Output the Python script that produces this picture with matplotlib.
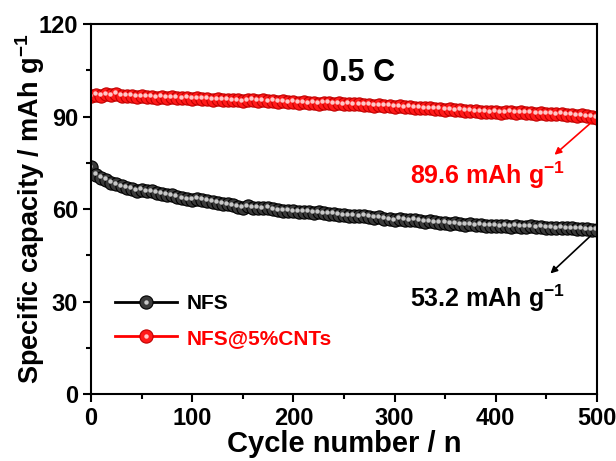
import numpy as np
import matplotlib.pyplot as plt
from matplotlib import transforms
from matplotlib.lines import Line2D
from matplotlib.legend_handler import HandlerTuple
from matplotlib.ticker import MultipleLocator

plt.rcParams['font.family'] = ['Liberation Sans', 'DejaVu Sans']
plt.rcParams['font.weight'] = 'bold'
plt.rcParams['mathtext.fontset'] = 'custom'
plt.rcParams['mathtext.rm'] = 'Liberation Sans:bold'
plt.rcParams['mathtext.default'] = 'rm'

# data (one point every 5 cycles)
cycles = np.arange(0, 501, 5)

nfs = [73.5, 71.0, 70.2, 69.5, 68.6, 68.0, 67.4, 66.8, 66.5, 66.0, 66.2,
       65.7, 65.8, 65.3, 65.0, 64.6, 64.4, 64.0, 63.5, 63.2, 63.0,
       63.3, 62.9, 62.6, 62.4, 62.1, 61.7, 61.5, 61.2, 60.8, 60.5,
       60.9, 60.4, 60.5, 60.2, 60.3, 59.9, 59.6, 59.4, 59.5, 59.3,
       59.2, 59.0, 59.1, 58.8, 58.9, 58.6, 58.4, 58.5, 58.2, 58.0,
       57.9, 57.8, 57.6, 57.7, 57.4, 57.2, 57.3, 56.9, 56.7, 56.4,
       56.8, 56.5, 56.3, 56.5, 56.1, 55.9, 56.0, 55.7, 55.5, 55.6,
       55.3, 55.4, 55.1, 54.9, 55.0, 54.7, 54.8, 54.6, 54.5, 54.6,
       54.4, 54.5, 54.3, 54.5, 54.2, 54.3, 54.4, 54.1, 54.2, 53.9,
       54.0, 53.8, 53.9, 53.7, 53.8, 53.5, 53.6, 53.4, 53.3, 53.2]

nfs_cnt = [96.5, 97.0, 96.8, 97.2, 96.9, 97.3, 96.8, 96.6, 96.7, 96.4, 96.5,
           96.3, 96.4, 96.1, 96.3, 96.0, 96.2, 96.1, 95.9, 96.0, 95.8,
           95.9, 95.7, 95.8, 95.5, 95.6, 95.4, 95.5, 95.2, 95.3, 94.9,
           95.3, 95.4, 95.0, 95.2, 94.9, 95.0, 94.8, 94.9, 94.6, 94.7,
           94.5, 94.6, 94.3, 94.5, 94.2, 94.4, 94.5, 94.2, 94.3, 94.0,
           94.1, 93.9, 94.0, 93.7, 93.8, 93.5, 93.6, 93.4, 93.5, 93.2,
           93.3, 93.0, 93.1, 92.8, 92.9, 92.6, 92.7, 92.4, 92.5, 92.2,
           92.3, 92.0, 92.1, 91.8, 91.9, 91.7, 91.5, 91.6, 91.4, 91.5,
           91.3, 91.4, 91.6, 91.3, 91.4, 91.1, 91.2, 90.9, 91.0, 90.8,
           90.9, 90.7, 90.8, 90.5, 90.6, 90.3, 90.4, 90.1, 90.0, 89.6]

labels = ["NFS", "NFS@5%CNTs"]
end_labels = ["53.2 mAh g$^{-1}$", "89.6 mAh g$^{-1}$"]

fig = plt.figure(figsize=(6.16, 4.61), dpi=100)
ax = fig.add_axes([0.148, 0.145, 0.821, 0.803])

hl = transforms.offset_copy(ax.transData, fig=fig, x=-1.2, y=1.2, units='points')

handles = []
styles = [("black", "#3a3a3a", "#000000", "#c8c8c8"),
          ("red", "#ff1a1a", "#c00000", "#ffc8c8")]
for y, (lc, fc, ec, hc) in zip([nfs, nfs_cnt], styles):
    base, = ax.plot(cycles, y, color=lc, lw=2, marker='o', ms=9.5,
                    mfc=fc, mec=ec, mew=0.8)
    ax.plot(cycles, y, ls='none', marker='o', ms=3.2, mfc=hc, mec='none',
            transform=hl)
    hi = Line2D([], [], ls='none', marker='o', ms=3.2, mfc=hc, mec='none')
    handles.append((base, hi))

leg = ax.legend(handles, labels, handler_map={tuple: HandlerTuple(ndivide=1)},
                loc='lower left', bbox_to_anchor=(0.01, 0.075), frameon=False,
                fontsize=15, handlelength=3.0, handletextpad=0.45, labelspacing=0.75)
for t, c in zip(leg.get_texts(), ["black", "red"]):
    t.set_color(c)

ax.text(264, 104, "0.5 C", fontsize=22, fontweight='bold', ha='center', va='center')

ax.annotate("", xy=(456, 77), xytext=(497, 88.8),
            arrowprops=dict(arrowstyle='-|>', color='red', lw=1.2, mutation_scale=10))
ax.text(392, 71, end_labels[1], color='red', fontsize=18, ha='center', va='center')
ax.annotate("", xy=(452, 38.5), xytext=(496, 52),
            arrowprops=dict(arrowstyle='-|>', color='black', lw=1.2, mutation_scale=10))
ax.text(392, 31, end_labels[0], color='black', fontsize=18, ha='center', va='center')

ax.set_xlim(0, 500)
ax.set_ylim(0, 120)
ax.xaxis.set_major_locator(MultipleLocator(100))
ax.xaxis.set_minor_locator(MultipleLocator(50))
ax.yaxis.set_major_locator(MultipleLocator(30))
ax.yaxis.set_minor_locator(MultipleLocator(15))
ax.tick_params(which='major', direction='out', length=6, width=1.5, labelsize=17)
ax.tick_params(which='minor', direction='out', length=3.5, width=1.5)
for s in ax.spines.values():
    s.set_linewidth(1.5)

ax.set_xlabel("Cycle number / n", fontsize=21, fontweight='bold', labelpad=0)
ax.set_ylabel("Specific capacity / mAh g$^{-1}$", fontsize=19.5, fontweight='bold')
ax.yaxis.set_label_coords(-0.087, 0.5)

fig.savefig("out.png", dpi=100)
